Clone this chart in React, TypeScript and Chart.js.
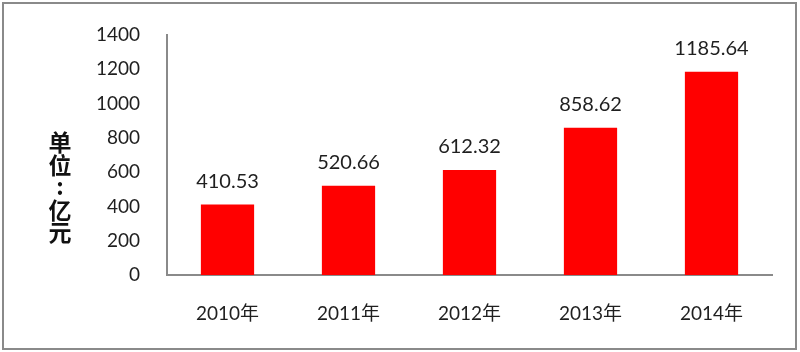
import React, { useEffect, useRef } from "react";
import { Chart, registerables } from "chart.js";

Chart.register(...registerables);

const categories = ["2010年", "2011年", "2012年", "2013年", "2014年"];
const values = [410.53, 520.66, 612.32, 858.62, 1185.64];
const valueLabels = ["410.53", "520.66", "612.32", "858.62", "1185.64"];
const yTitleChars = ["单", "位", ":", "亿", "元"];

const FONT = "Lato, 'Noto Sans CJK SC', sans-serif";

export default function App() {
  const ref = useRef<HTMLCanvasElement | null>(null);
  useEffect(() => {
    document.body.style.margin = "0";
    const canvas = ref.current!;
    const labelsPlugin = {
      id: "extras",
      afterDatasetsDraw(chart: any) {
        const ctx = chart.ctx;
        ctx.save();
        const meta = chart.getDatasetMeta(0);
        ctx.font = `20px ${FONT}`;
        ctx.fillStyle = "#1f1f1f";
        ctx.textAlign = "center";
        ctx.textBaseline = "middle";
        meta.data.forEach((bar: any, i: number) => {
          ctx.fillText(valueLabels[i], bar.x, bar.y - 23);
        });
        ctx.font = `bold 23px 'Noto Sans CJK SC', sans-serif`;
        ctx.fillStyle = "#111";
        const ys = [142, 165, 186, 210, 232];
        yTitleChars.forEach((c, i) => {
          ctx.fillText(c, 60, ys[i]);
        });
        ctx.strokeStyle = "#8a8a8a";
        ctx.lineWidth = 2;
        ctx.strokeRect(3, 3, 793, 346);
        ctx.restore();
      },
    };
    const chart = new Chart(canvas, {
      type: "bar",
      data: {
        labels: categories,
        datasets: [
          {
            data: values,
            backgroundColor: "#ff0000",
            borderWidth: 0,
            categoryPercentage: 1,
            barPercentage: 0.44,
          },
        ],
      },
      options: {
        responsive: false,
        animation: false,
        devicePixelRatio: 1,
        layout: { padding: { top: 35, right: 28, left: 0, bottom: 0 } },
        plugins: { legend: { display: false }, tooltip: { enabled: false } },
        scales: {
          x: {
            grid: { display: false, drawTicks: false },
            border: { display: true, color: "#8a8a8a", width: 2 },
            ticks: { padding: 27, color: "#1f1f1f", font: { family: FONT, size: 19 } },
            afterFit: (s: any) => {
              s.height = 77;
              s.paddingLeft = 0;
              s.paddingRight = 0;
            },
          },
          y: {
            min: 0,
            max: 1400,
            grid: { display: false, drawTicks: false },
            border: { display: true, color: "#8a8a8a", width: 2 },
            ticks: {
              stepSize: 200,
              padding: 27,
              color: "#1f1f1f",
              font: { family: FONT, size: 19 },
              callback: (v: any) => String(v),
            },
            afterFit: (s: any) => {
              s.width = 167;
              s.paddingTop = 0;
              s.paddingBottom = 0;
            },
          },
        },
      },
      plugins: [labelsPlugin],
    });
    return () => chart.destroy();
  }, []);
  return <canvas ref={ref} width={800} height={352} style={{ display: "block" }} />;
}
